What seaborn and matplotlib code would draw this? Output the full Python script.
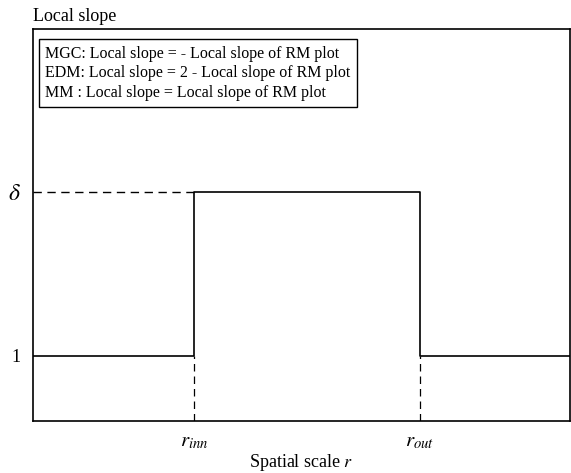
import matplotlib
matplotlib.use("Agg")
import matplotlib.pyplot as plt
import seaborn as sns
import pandas as pd

# Data
x_breaks = [0.0, 3.0, 7.2, 10.0]          # start, r_inn, r_out, end
levels = [1.0, 3.5, 1.0]                  # local slope on each segment
ytick_vals = [1.0, 3.5]
ytick_labels = ["1", r"$\delta$"]
xtick_vals = [3.0, 7.2]
xtick_labels = [r"$r_{inn}$", r"$r_{out}$"]
legend_lines = [
    "MGC: Local slope = - Local slope of RM plot",
    "EDM: Local slope = 2 - Local slope of RM plot",
    "MM : Local slope = Local slope of RM plot",
]

sns.set_theme(style="white")
plt.rcParams["font.family"] = ["Liberation Serif", "DejaVu Serif"]
plt.rcParams["mathtext.fontset"] = "stix"

xs, ys = [], []
for i, lv in enumerate(levels):
    xs += [x_breaks[i], x_breaks[i + 1]]
    ys += [lv, lv]
df = pd.DataFrame({"x": xs, "y": ys})

fig = plt.figure(figsize=(5.71, 4.73), dpi=100)
ax = fig.add_axes([0.058, 0.110, 0.940, 0.829])
sns.lineplot(data=df, x="x", y="y", sort=False, estimator=None, color="black",
             linewidth=1.2, ax=ax)

ax.set_xlim(x_breaks[0], x_breaks[-1])
ax.set_ylim(0, 6)

# dashed guides
ax.plot([x_breaks[0], x_breaks[1]], [levels[1], levels[1]], color="black",
        linestyle=(0, (6, 4)), linewidth=1.0)
for xv in xtick_vals:
    ax.plot([xv, xv], [0, levels[0]], color="black", linestyle=(0, (6, 4)),
            linewidth=0.9)

ax.set_yticks(ytick_vals)
ax.set_yticklabels(ytick_labels)
for lab, fs in zip(ax.get_yticklabels(), [13, 17]):
    lab.set_fontsize(fs)
ax.set_xticks(xtick_vals)
ax.set_xticklabels(xtick_labels, fontsize=15)
ax.tick_params(axis="y", length=3, width=1, color="black", direction="out", pad=6)
ax.tick_params(axis="x", length=0, pad=8)
for lab in ax.get_yticklabels() + ax.get_xticklabels():
    lab.set_color("black")

for sp in ax.spines.values():
    sp.set_visible(True)
    sp.set_color("black")
    sp.set_linewidth(1.2)

ax.set_xlabel(r"Spatial scale $r$", fontsize=13, color="black", labelpad=1)
ax.set_ylabel("")
fig.text(0.058, 0.965, "Local slope", fontsize=13, color="black", va="center", ha="left")

ax.text(0.022, 0.957, "\n".join(legend_lines), transform=ax.transAxes,
        fontsize=11.5, color="black", va="top", ha="left", linespacing=1.3,
        bbox=dict(boxstyle="square,pad=0.4", facecolor="white",
                  edgecolor="black", linewidth=1.0))

fig.savefig("out.png", dpi=100)
